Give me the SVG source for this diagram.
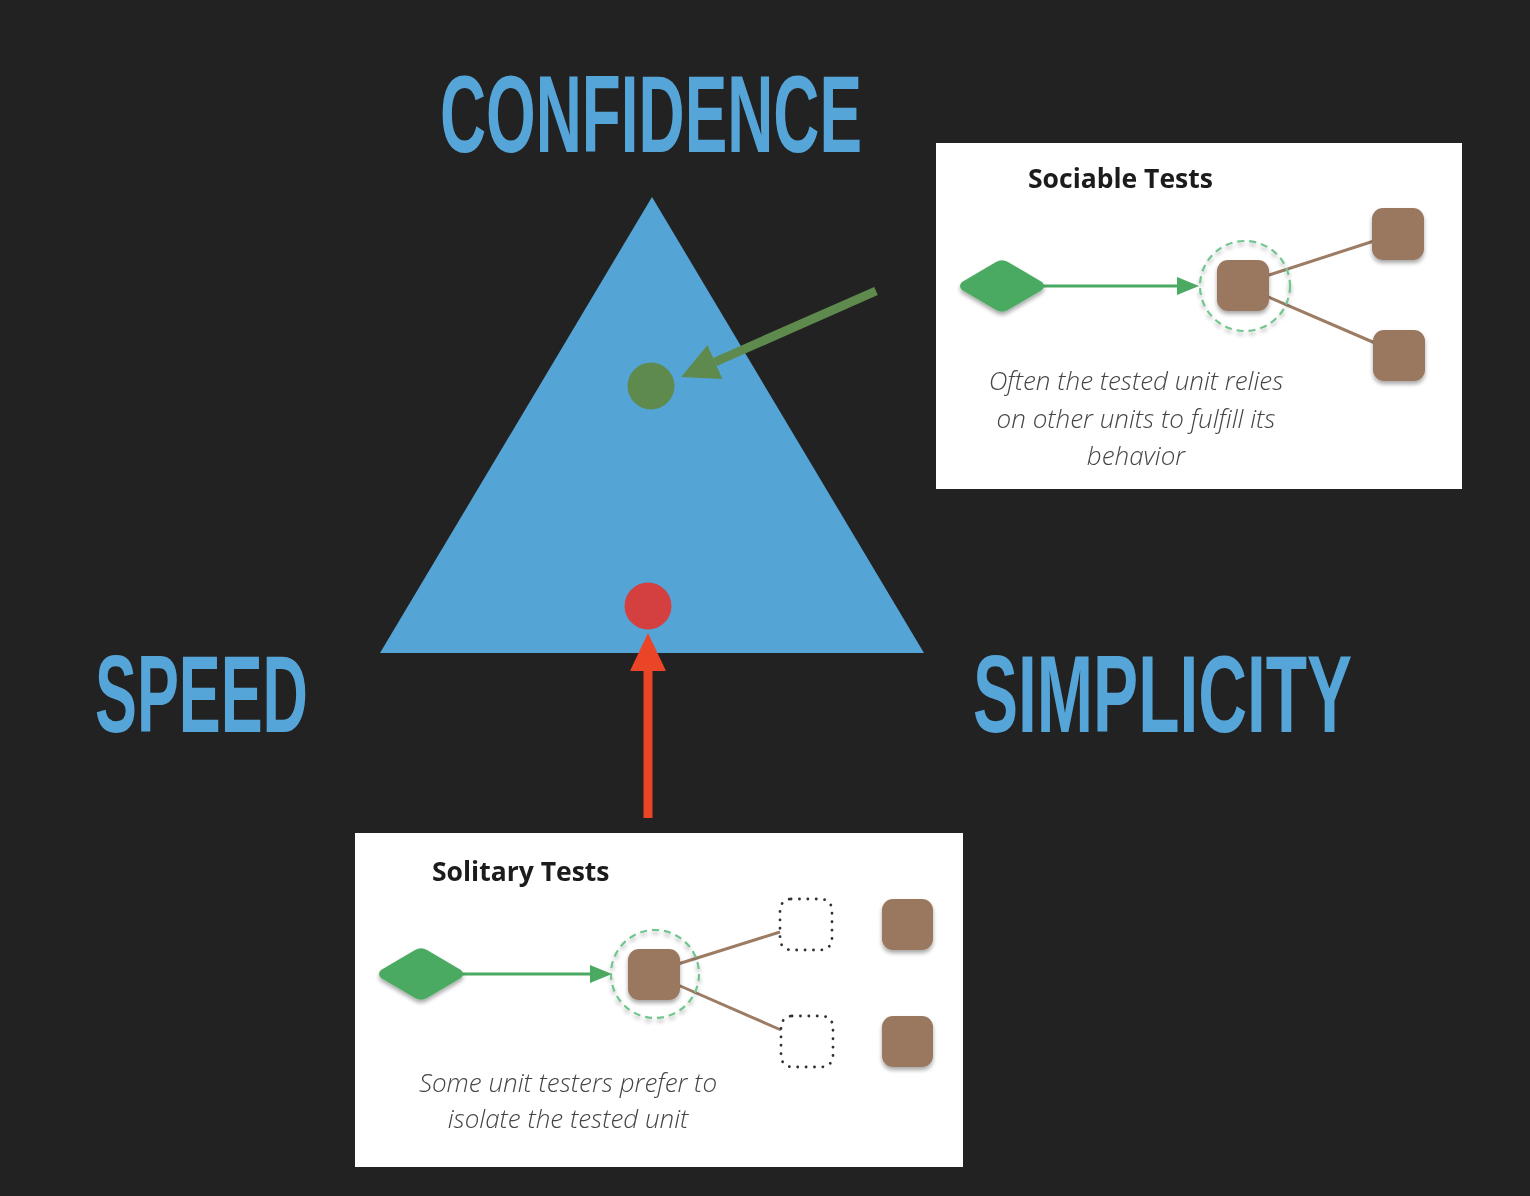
<svg xmlns="http://www.w3.org/2000/svg" width="1530" height="1196" viewBox="0 0 1530 1196">
  <style>
    .axis { font-family: "Liberation Sans", "DejaVu Sans", sans-serif; font-weight: bold; font-size: 110px; fill: #55a5d8; }
    .inset-frame { fill: #ffffff; }
    .inset-title { font-family: "Open Sans", "Liberation Sans", sans-serif; font-weight: 700; font-size: 26.5px; fill: #1a1a1a; }
    .inset-note { font-family: "Open Sans", "Liberation Sans", sans-serif; font-style: italic; font-weight: 300; font-size: 26px; fill: #454545; text-anchor: middle; }
    .unit { fill: #9a7861; }
    .caller { fill: #4caa62; }
    .focus { fill: none; stroke: #72c58f; stroke-width: 2.2; stroke-dasharray: 7 5; }
    .stub { fill: none; stroke: #333333; stroke-width: 2.8; stroke-dasharray: 0.1 8.3; stroke-linecap: round; }
    .call { stroke: #4caa62; stroke-width: 3; fill: none; }
    .dep { stroke: #9c7b64; stroke-width: 3; fill: none; }
    .soft { filter: url(#soften); }
  </style>
  <defs>
    <filter id="soften" x="-20%" y="-20%" width="140%" height="140%">
      <feGaussianBlur in="SourceAlpha" stdDeviation="2.2"/>
      <feOffset dx="0" dy="2.5" result="shade"/>
      <feComponentTransfer in="shade" result="shadeFaint"><feFuncA type="linear" slope="0.35"/></feComponentTransfer>
      <feGaussianBlur in="SourceGraphic" stdDeviation="0.6" result="body"/>
      <feMerge><feMergeNode in="shadeFaint"/><feMergeNode in="body"/></feMerge>
    </filter>
    <filter id="haze" x="-5%" y="-20%" width="110%" height="140%">
      <feGaussianBlur stdDeviation="0.6"/>
    </filter>
    <!-- rounded rhombus, centred on 0,0 -->
    <path id="rhombus" d="M-40,-4 Q-44,0 -40,4 L-6,24 Q0,27.5 6,24 L40,4 Q44,0 40,-4 L6,-24 Q0,-27.5 -6,-24 Z"/>
    <marker id="head-green" markerUnits="userSpaceOnUse" markerWidth="40" markerHeight="40" viewBox="0 0 40 40" refX="0" refY="18.5" orient="auto">
      <path d="M0,0 L37,18.5 L0,37 Z" fill="#5e8a4e"/>
    </marker>
    <marker id="head-red" markerUnits="userSpaceOnUse" markerWidth="40" markerHeight="40" viewBox="0 0 40 40" refX="0" refY="18" orient="auto">
      <path d="M0,0 L38,18 L0,36 Z" fill="#ea4526"/>
    </marker>
    <marker id="head-call" markerUnits="userSpaceOnUse" markerWidth="24" markerHeight="20" viewBox="0 0 24 20" refX="0" refY="9" orient="auto">
      <path d="M0,0 L22,9 L0,18 Z" fill="#4caa62"/>
    </marker>
  </defs>

  <rect width="1530" height="1196" fill="#222222"/>

  <!-- trade-off triangle -->
  <g id="triangle">
    <polygon points="652,197 924,653 380,653" fill="#55a4d6"/>
  </g>

  <g id="label-confidence">
    <text class="axis" x="440" y="152" textLength="422" lengthAdjust="spacingAndGlyphs">CONFIDENCE</text>
  </g>
  <g id="label-speed">
    <text class="axis" x="95" y="732" textLength="213" lengthAdjust="spacingAndGlyphs">SPEED</text>
  </g>
  <g id="label-simplicity">
    <text class="axis" x="973" y="732" textLength="379" lengthAdjust="spacingAndGlyphs">SIMPLICITY</text>
  </g>

  <g id="dot-sociable">
    <circle cx="651" cy="386" r="23.5" fill="#5e8a4e"/>
  </g>
  <g id="dot-solitary">
    <circle cx="648" cy="606" r="23.5" fill="#d43f3f"/>
  </g>

  <!-- inset frames -->
  <g id="sociable-inset">
    <rect class="inset-frame" x="936" y="143" width="526" height="346"/>
    <g filter="url(#haze)">
      <text class="inset-title" x="1028" y="188">Sociable Tests</text>
      <text class="inset-note" x="1136" y="390">Often the tested unit relies</text>
      <text class="inset-note" x="1136" y="428">on other units to fulfill its</text>
      <text class="inset-note" x="1136" y="465">behavior</text>
    </g>
  </g>
  <g id="solitary-inset">
    <rect class="inset-frame" x="355" y="833" width="608" height="334"/>
    <g filter="url(#haze)">
      <text class="inset-title" x="432" y="881">Solitary Tests</text>
      <text class="inset-note" x="568" y="1092">Some unit testers prefer to</text>
      <text class="inset-note" x="568" y="1128">isolate the tested unit</text>
    </g>
  </g>

  <g id="connectors">
    <line x1="876" y1="291" x2="715" y2="362" stroke="#5e8a4e" stroke-width="9" marker-end="url(#head-green)"/>
    <line x1="648" y1="818" x2="648" y2="671" stroke="#ea4526" stroke-width="9" marker-end="url(#head-red)"/>
    <g filter="url(#haze)">
      <line class="call" x1="1040" y1="286" x2="1177" y2="286" marker-end="url(#head-call)"/>
      <line class="dep" x1="1266" y1="276" x2="1374" y2="241"/>
      <line class="dep" x1="1266" y1="296" x2="1375" y2="343"/>
      <line class="call" x1="458" y1="974" x2="590" y2="974" marker-end="url(#head-call)"/>
      <line class="dep" x1="678" y1="964" x2="780" y2="932"/>
      <line class="dep" x1="678" y1="985" x2="781" y2="1030"/>
    </g>
  </g>

  <!-- sociable inset nodes -->
  <g id="sociable-caller" class="soft">
    <use href="#rhombus" class="caller" x="1002" y="286"/>
  </g>
  <g id="sociable-focus" class="soft">
    <circle class="focus" cx="1245" cy="286" r="45"/>
  </g>
  <g id="sociable-unit" class="soft">
    <rect class="unit" x="1217" y="260" width="52" height="51" rx="11"/>
  </g>
  <g id="sociable-dep-upper" class="soft">
    <rect class="unit" x="1372" y="208" width="52" height="52" rx="11"/>
  </g>
  <g id="sociable-dep-lower" class="soft">
    <rect class="unit" x="1373" y="330" width="52" height="51" rx="11"/>
  </g>

  <!-- solitary inset nodes -->
  <g id="solitary-caller" class="soft">
    <use href="#rhombus" class="caller" x="421" y="974"/>
  </g>
  <g id="solitary-focus" class="soft">
    <circle class="focus" cx="655" cy="974" r="44"/>
  </g>
  <g id="solitary-unit" class="soft">
    <rect class="unit" x="628" y="949" width="52" height="51" rx="11"/>
  </g>
  <g id="solitary-stub-upper" filter="url(#haze)">
    <rect class="stub" x="780" y="899" width="52" height="51" rx="11"/>
  </g>
  <g id="solitary-stub-lower" filter="url(#haze)">
    <rect class="stub" x="781" y="1016" width="52" height="51" rx="11"/>
  </g>
  <g id="solitary-dep-upper" class="soft">
    <rect class="unit" x="882" y="899" width="51" height="51" rx="11"/>
  </g>
  <g id="solitary-dep-lower" class="soft">
    <rect class="unit" x="882" y="1016" width="51" height="51" rx="11"/>
  </g>
</svg>
